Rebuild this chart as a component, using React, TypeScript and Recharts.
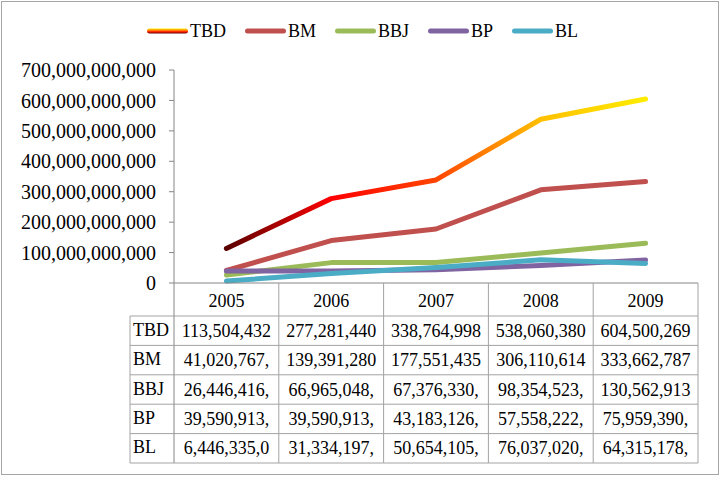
import { LineChart, Line, XAxis, YAxis, Legend } from "recharts";

const years = ["2005", "2006", "2007", "2008", "2009"];
const seriesNames = ["TBD", "BM", "BBJ", "BP", "BL"];
const tbd = [113504432000, 277281440000, 338764998000, 538060380000, 604500269000];
const bm = [41020767000, 139391280000, 177551435000, 306110614000, 333662787000];
const bbj = [26446416000, 66965048000, 67376330000, 98354523000, 130562913000];
const bp = [39590913000, 39590913000, 43183126000, 57558222000, 75959390000];
const bl = [6446335000, 31334197000, 50654105000, 76037020000, 64315178000];
const yTicks = [0, 100000000000, 200000000000, 300000000000, 400000000000, 500000000000, 600000000000, 700000000000];

const seriesValues = [tbd, bm, bbj, bp, bl];
const seriesColors = ["url(#tbdLine)", "#C0504D", "#9BBB59", "#8064A2", "#4BACC6"];

const data = years.map((year, i) => {
  const row: Record<string, number | string> = { i, year };
  seriesNames.forEach((n, k) => (row[n] = seriesValues[k][i]));
  return row;
});

// layout
const W = 724;
const H = 480;
const PLOT_LEFT = 174;
const PLOT_RIGHT = 698;
const PLOT_TOP = 70;
const PLOT_BOTTOM = 283;
const TABLE_LEFT = 130;
const HEADER_BOTTOM = 316;
const ROW_H = 29.4;
const LEGEND_H = 24;
const FONT = "'Liberation Serif', 'Times New Roman', serif";
const GRID = "#a3a3a3";
const AXIS = "#868686";

const fmtCell = (v: number) => v.toLocaleString("en-US").slice(0, 11);

function TableTick(props: any) {
  const { x, payload } = props;
  const idx = payload.value as number;
  const colW = (PLOT_RIGHT - PLOT_LEFT) / years.length;
  const l = x - colW / 2;
  const r = x + colW / 2;
  const bottom = HEADER_BOTTOM + ROW_H * seriesNames.length;
  const rowYs = seriesNames.map((_, k) => HEADER_BOTTOM + ROW_H * k);
  return (
    <g fontFamily={FONT} fontSize={18} fill="#000">
      <line x1={r} y1={PLOT_BOTTOM} x2={r} y2={bottom} stroke={GRID} />
      {[...rowYs, bottom].map((y) => (
        <line key={y} x1={l} y1={y} x2={r} y2={y} stroke={GRID} />
      ))}
      <text x={x} y={(PLOT_BOTTOM + HEADER_BOTTOM) / 2 + 1} textAnchor="middle" dominantBaseline="central">
        {years[idx]}
      </text>
      {seriesValues.map((vals, k) => (
        <text key={k} x={x} y={rowYs[k] + ROW_H / 2} textAnchor="middle" dominantBaseline="central">
          {fmtCell(vals[idx])}
        </text>
      ))}
      {idx === 0 && (
        <g>
          <line x1={l} y1={PLOT_BOTTOM} x2={l} y2={bottom} stroke={AXIS} />
          <line x1={TABLE_LEFT} y1={HEADER_BOTTOM} x2={TABLE_LEFT} y2={bottom} stroke={GRID} />
          {[...rowYs, bottom].map((y) => (
            <line key={y} x1={TABLE_LEFT} y1={y} x2={l} y2={y} stroke={GRID} />
          ))}
          {seriesNames.map((n, k) => (
            <text key={n} x={TABLE_LEFT + 3} y={rowYs[k] + ROW_H / 2 - 1} textAnchor="start" dominantBaseline="central">
              {n}
            </text>
          ))}
        </g>
      )}
    </g>
  );
}

function LegendContent() {
  return (
    <div style={{ display: "flex", justifyContent: "center", alignItems: "center", height: LEGEND_H, fontFamily: FONT, fontSize: 18, color: "#000" }}>
      {seriesNames.map((n, k) => (
        <div key={n} style={{ display: "flex", alignItems: "center", marginLeft: k ? 18 : 0 }}>
          <svg width={43} height={8}>
            <defs>
              <linearGradient id="tbdLegend" x1="0" y1="0" x2="0" y2="1">
                <stop offset="0%" stopColor="#ffe600" />
                <stop offset="35%" stopColor="#ff9000" />
                <stop offset="65%" stopColor="#ff1a00" />
                <stop offset="100%" stopColor="#6a0000" />
              </linearGradient>
            </defs>
            <rect x={1} y={1.5} width={41} height={5} rx={2.5} fill={k === 0 ? "url(#tbdLegend)" : seriesColors[k]} />
          </svg>
          <span style={{ marginLeft: 1, lineHeight: `${LEGEND_H}px` }}>{n}</span>
        </div>
      ))}
    </div>
  );
}

export default function App() {
  return (
    <div style={{ position: "relative", width: W, height: H, background: "#fff" }}>
      <style>{`body{margin:0}`}</style>
      <div style={{ position: "absolute", left: 1, top: 1, width: 716, height: 472, border: "1.5px solid #a6a6a6", pointerEvents: "none" }} />
      <LineChart width={W} height={H} data={data} margin={{ top: PLOT_TOP - LEGEND_H, right: W - PLOT_RIGHT, left: 0, bottom: 17 }}>
        <defs>
          <linearGradient id="tbdLine" x1="0" y1="0" x2="1" y2="0">
            <stop offset="0%" stopColor="#5a0000" />
            <stop offset="25%" stopColor="#ff0000" />
            <stop offset="50%" stopColor="#ff4500" />
            <stop offset="75%" stopColor="#ffc000" />
            <stop offset="100%" stopColor="#ffec00" />
          </linearGradient>
        </defs>
        <Legend verticalAlign="top" align="center" content={<LegendContent />} wrapperStyle={{ top: 19, left: 0, width: W, height: LEGEND_H }} />
        <XAxis
          dataKey="i"
          type="number"
          domain={[-0.5, years.length - 0.5]}
          ticks={years.map((_, i) => i)}
          interval={0}
          height={H - PLOT_BOTTOM - 17}
          axisLine={{ stroke: AXIS }}
          tickLine={false}
          tick={(p: any) => <TableTick {...p} />}
        />
        <YAxis
          width={PLOT_LEFT}
          domain={[0, 700000000000]}
          ticks={yTicks}
          interval={0}
          tickSize={5}
          tickMargin={13}
          axisLine={{ stroke: AXIS }}
          tickLine={{ stroke: AXIS }}
          tick={{ fontSize: 20, fill: "#000", fontFamily: FONT }}
          tickFormatter={(v: number) => v.toLocaleString("en-US")}
        />
        {seriesNames.map((n, k) => (
          <Line
            key={n}
            dataKey={n}
            stroke={seriesColors[k]}
            strokeWidth={5}
            strokeLinecap="round"
            strokeLinejoin="round"
            dot={false}
            activeDot={false}
            isAnimationActive={false}
          />
        ))}
      </LineChart>
    </div>
  );
}
